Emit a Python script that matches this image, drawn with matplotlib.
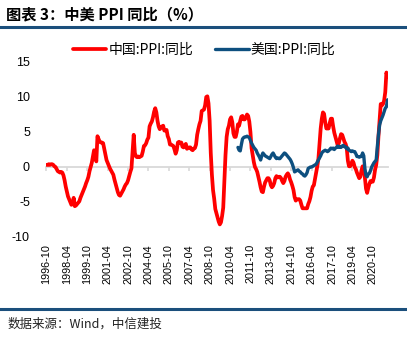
import numpy as np
import pandas as pd
import matplotlib
matplotlib.use("Agg")
import matplotlib.pyplot as plt

plt.rcParams['axes.unicode_minus'] = False
CJK = ['Noto Sans CJK SC', 'DejaVu Sans']

# China PPI yoy, monthly from 1996-10 to 2021-11
cn_ppi = [
    0.3, 0.3, 0.4,
    0.3, 0.4, 0.4, 0.3, 0.1, 0.0, -0.3, -0.6, -0.7, -0.8, -0.7, -0.8,
    -1.2, -1.9, -2.8, -3.5, -4.2, -4.6, -5.0, -5.4, -5.3, -4.4, -5.6, -5.5,
    -5.3, -5.1, -4.9, -4.4, -4.0, -3.6, -3.2, -2.8, -2.3, -1.9, -1.4, -0.6,
    0.0, 0.6, 1.5, 2.4, 1.6, 0.8, 4.4, 4.0, 3.6, 3.5, 3.5, 3.4,
    2.6, 1.8, 1.0, 0.6, 0.2, -0.2, -0.5, -0.8, -1.1, -1.8, -2.4, -3.0,
    -3.6, -4.0, -4.1, -3.8, -3.5, -3.2, -2.8, -2.5, -2.3, -1.9, -1.3, -0.7,
    -0.2, 2.2, 4.6, 2.0, 1.5, 1.4, 1.5, 1.4, 1.5, 1.6, 2.2, 3.0,
    3.1, 3.4, 3.9, 4.2, 5.8, 6.2, 6.5, 7.1, 7.9, 8.4, 7.8, 6.6,
    5.8, 5.4, 5.6, 5.8, 5.9, 5.2, 5.2, 5.3, 4.4, 4.0, 3.2, 3.2,
    3.1, 3.0, 2.5, 1.9, 2.4, 3.5, 3.6, 3.4, 3.5, 2.9, 2.8, 3.1,
    3.3, 2.6, 2.7, 2.8, 2.8, 2.5, 2.4, 2.6, 2.7, 3.2, 4.6, 5.4,
    6.1, 6.6, 8.0, 8.1, 8.2, 8.8, 10.0, 10.1, 9.1, 6.6, 2.0, -1.1,
    -3.3, -4.5, -6.0, -6.6, -7.2, -7.8, -8.2, -7.9, -7.0, -5.8, -2.1, 1.7,
    4.3, 5.4, 5.9, 6.8, 7.1, 6.4, 4.8, 4.3, 4.3, 5.0, 6.1, 5.9,
    6.6, 7.2, 7.3, 6.8, 6.8, 7.1, 7.5, 7.3, 6.5, 5.0, 2.7, 1.7,
    0.7, 0.0, -0.3, -0.7, -1.4, -2.1, -2.9, -3.5, -3.6, -2.8, -2.2, -1.9,
    -1.6, -1.6, -1.9, -2.6, -2.9, -2.7, -2.3, -1.6, -1.3, -1.5, -1.4, -1.4,
    -1.6, -2.0, -2.3, -2.0, -1.4, -1.1, -0.9, -1.2, -1.8, -2.2, -2.7, -3.3,
    -4.3, -4.8, -4.6, -4.6, -4.6, -4.8, -5.4, -5.9, -5.9, -5.9, -5.9, -5.9,
    -5.3, -4.9, -4.3, -3.4, -2.8, -2.6, -1.7, -0.8, 0.1, 1.2, 3.3, 5.5,
    6.9, 7.8, 7.6, 6.4, 5.5, 5.5, 5.5, 6.3, 6.9, 6.9, 5.8, 4.9,
    4.3, 3.7, 3.1, 3.4, 4.1, 4.7, 4.6, 4.1, 3.6, 3.3, 2.7, 0.9,
    0.1, 0.1, 0.4, 0.9, 0.6, 0.0, -0.3, -0.8, -1.2, -1.6, -1.4, -0.5,
    0.1, -0.4, -1.5, -3.1, -3.7, -3.0, -2.4, -2.0, -2.1, -2.1, -1.5, -0.4,
    0.3, 1.7, 4.4, 6.8, 9.0, 8.8, 9.0, 9.5, 10.7, 13.5, 12.9,
]

# US PPI yoy, monthly from 2010-11 to 2021-11
us_ppi = [
    2.8, 2.4,
    2.3, 3.2, 4.0, 4.2, 4.3, 4.3, 4.4, 4.3, 4.2, 3.8, 3.4, 3.1,
    2.8, 2.6, 2.4, 2.0, 1.7, 1.4, 1.0, 1.6, 2.0, 1.8, 1.6, 1.5,
    1.4, 1.3, 1.2, 1.5, 1.8, 2.0, 1.7, 1.4, 1.2, 1.3, 1.2, 1.2,
    1.4, 1.6, 1.8, 2.0, 1.9, 1.7, 1.5, 1.3, 1.1, 0.8, 0.4, -0.1,
    -0.7, -0.6, -0.5, -0.4, -0.6, -0.7, -0.9, -1.0, -1.2, -1.3, -1.1, -0.8,
    -0.2, -0.1, 0.0, 0.0, 0.1, 0.2, 0.3, 0.4, 0.7, 1.0, 1.3, 1.6,
    2.0, 2.2, 2.3, 2.4, 2.3, 2.2, 2.3, 2.5, 2.7, 2.6, 2.7, 2.5,
    2.7, 2.8, 3.0, 2.8, 2.9, 2.8, 3.0, 3.1, 2.9, 2.9, 2.6, 2.7,
    2.4, 2.3, 2.2, 2.3, 2.2, 2.2, 1.9, 1.5, 1.5, 1.4, 1.5, 1.5,
    2.0, 1.6, -0.2, -1.2, -1.4, -1.0, -0.9, -0.5, 0.0, 0.3, 0.6, 0.8,
    1.0, 2.9, 4.6, 6.0, 6.6, 7.0, 7.4, 7.9, 8.4, 8.6, 9.6,
]

dates = pd.date_range('1996-10-01', periods=len(cn_ppi), freq='MS')
us_start = list(dates).index(pd.Timestamp('2010-11-01'))

x = np.arange(len(cn_ppi))
x_us = np.arange(us_start, us_start + len(us_ppi))

tick_idx = np.arange(0, len(cn_ppi), 18)
tick_lab = [dates[i].strftime('%Y-%m') for i in tick_idx]

W, H = 407, 337
fig = plt.figure(figsize=(W / 100, H / 100), dpi=100)

# plot area in pixels
left_px, right_px, top_px, bot_px = 45.9, 388.1, 62, 237
ax = fig.add_axes([left_px / W, 1 - bot_px / H, (right_px - left_px) / W, (bot_px - top_px) / H])

red = '#ff0000'
blue = '#0d4f7f'
l1, = ax.plot(x, cn_ppi, color=red, lw=2.7, solid_capstyle='round', label='中国:PPI:同比', zorder=3)
l2, = ax.plot(x_us, us_ppi, color=blue, lw=2.4, solid_capstyle='round', label='美国:PPI:同比', zorder=4)

ax.set_xlim(-0.5, len(cn_ppi) - 0.5)
ax.set_ylim(-10, 15)
ax.set_yticks([-10, -5, 0, 5, 10, 15])
for s in ax.spines.values():
    s.set_visible(False)

ax.set_xticks(tick_idx)
ax.set_xticklabels(tick_lab, rotation=90, fontsize=7.8, family='Liberation Sans')
ax.tick_params(axis='x', length=0, pad=5)
ax.tick_params(axis='y', length=0, pad=11.5, labelsize=9)
for t in ax.get_yticklabels():
    t.set_family('Liberation Sans')

# zero line with small tick marks
sec = ax.secondary_xaxis(0.4)
sec.set_xticks(tick_idx)
sec.tick_params(axis='x', labelbottom=False, labeltop=False, direction='out',
                length=3, width=1.2, color='#d9d9d9')
sec.spines['bottom'].set_color('#d9d9d9')
sec.spines['bottom'].set_linewidth(1.3)
sec.set_zorder(1)
ax.set_zorder(2)
ax.patch.set_visible(False)

fig.legend(handles=[l1, l2], loc='center', bbox_to_anchor=(0.502, 1 - 50 / H), ncol=2,
           frameon=False, prop={'family': CJK, 'size': 10}, handlelength=2.4,
           handletextpad=0.15, columnspacing=1.6, borderaxespad=0)

# title, rules and source
fig.text(6 / W, 1 - 14 / H, '图表 3：中美 PPI 同比（%）', family=CJK, fontsize=11,
         fontweight='bold', va='center', ha='left')
fig.add_artist(plt.Line2D([0, 1], [1 - 27 / H, 1 - 27 / H], color='#1b4f7c', lw=2.2))
fig.add_artist(plt.Line2D([0, 1], [1 - 309 / H, 1 - 309 / H], color='#1b4f7c', lw=2.2))
fig.text(8 / W, 1 - 324 / H, '数据来源：Wind，中信建投', family=CJK, fontsize=9,
         va='center', ha='left', color='#222222')

fig.savefig('out.png', dpi=100)
